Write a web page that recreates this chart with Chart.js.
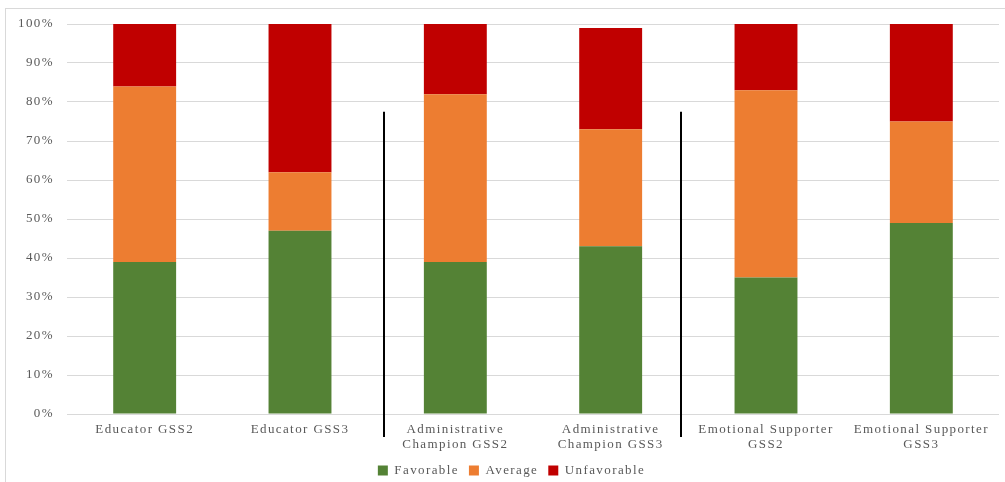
<!DOCTYPE html>
<html>
<head>
<meta charset="utf-8">
<script src="https://cdn.jsdelivr.net/npm/chart.js@4/dist/chart.umd.min.js"></script>
<style>
  html, body { margin: 0; padding: 0; background: #ffffff; }
  #wrap { position: relative; width: 1005px; height: 482px; }
  #frame { position: absolute; left: 5px; top: 8px; width: 1010px; height: 490px;
           border: 1px solid #d9d9d9; box-sizing: border-box; pointer-events: none; }
  canvas { position: absolute; left: 0; top: 0; }
</style>
</head>
<body>
<div id="wrap">
  <canvas id="chart" width="1005" height="482"></canvas>
  <div id="frame"></div>
</div>
<script>
// Survey response shares per role and survey wave (percent)
const categories = [
  "Educator GSS2",
  "Educator GSS3",
  ["Administrative", "Champion GSS2"],
  ["Administrative", "Champion GSS3"],
  ["Emotional Supporter", "GSS2"],
  ["Emotional Supporter", "GSS3"]
];
const favorable   = [39, 47, 39, 43, 35, 49];
const average     = [45, 15, 43, 30, 48, 26];
const unfavorable = [16, 38, 18, 26, 17, 25];
const yTicks = [0, 10, 20, 30, 40, 50, 60, 70, 80, 90, 100];

const FONT = "'Liberation Serif', 'Times New Roman', serif";
const TEXT = "#595959";

// Wider tracking for all chart text (applied before measuring and drawing)
const tracking = {
  id: "tracking",
  beforeLayout(chart) { chart.ctx.letterSpacing = "1.4px"; },
  beforeDraw(chart) { chart.ctx.letterSpacing = "1.4px"; }
};

// Move the legend row a little right and up from its default slot
const legendOffset = {
  id: "legendOffset",
  afterLayout(chart) {
    const lg = chart.legend;
    if (!lg) return;
    lg.left += 12; lg.right += 12;
    lg.top -= 6; lg.bottom -= 6;
  }
};

// Vertical divider lines between the three role groups
const groupDividers = {
  id: "groupDividers",
  afterDatasetsDraw(chart) {
    const { ctx, scales: { x, y } } = chart;
    const step = x.getPixelForValue(1) - x.getPixelForValue(0);
    const lines = [x.getPixelForValue(1.5) + step * 0.04, x.getPixelForValue(3.5) - step * 0.045];
    ctx.save();
    ctx.strokeStyle = "#000000";
    ctx.lineWidth = 2;
    lines.forEach(px => {
      ctx.beginPath();
      ctx.moveTo(Math.round(px), y.getPixelForValue(77.5));
      ctx.lineTo(Math.round(px), y.getPixelForValue(0) + 23);
      ctx.stroke();
    });
    ctx.restore();
  }
};

new Chart(document.getElementById("chart"), {
  type: "bar",
  data: {
    labels: categories,
    datasets: [
      { label: "Favorable",   data: favorable,   backgroundColor: "#548235" },
      { label: "Average",     data: average,     backgroundColor: "#ED7D31" },
      { label: "Unfavorable", data: unfavorable, backgroundColor: "#C00000" }
    ]
  },
  options: {
    responsive: false,
    animation: false,
    layout: { padding: { top: 24, right: 6, left: 0, bottom: -11 } },
    datasets: { bar: { barPercentage: 0.405, categoryPercentage: 1.0 } },
    scales: {
      x: {
        stacked: true,
        grid: { display: false, drawTicks: false },
        border: { display: false },
        ticks: {
          color: TEXT, font: { family: FONT, size: 13, lineHeight: 1.15 },
          maxRotation: 0, autoSkip: false, padding: 8
        },
        afterFit(scale) { scale.height = 46; }
      },
      y: {
        stacked: true,
        min: 0, max: 100,
        afterBuildTicks(scale) { scale.ticks = yTicks.map(v => ({ value: v })); },
        grid: { color: "#d9d9d9", lineWidth: 1, drawTicks: false },
        border: { display: false },
        ticks: {
          color: TEXT, font: { family: FONT, size: 13 }, padding: 13,
          callback: v => v + "%"
        },
        afterFit(scale) { scale.width = 67; }
      }
    },
    plugins: {
      legend: {
        position: "bottom",
        labels: {
          color: TEXT, font: { family: FONT, size: 13 },
          boxWidth: 10, boxHeight: 10, padding: 10
        }
      },
      tooltip: { enabled: false }
    }
  },
  plugins: [tracking, legendOffset, groupDividers]
});
</script>
</body>
</html>
